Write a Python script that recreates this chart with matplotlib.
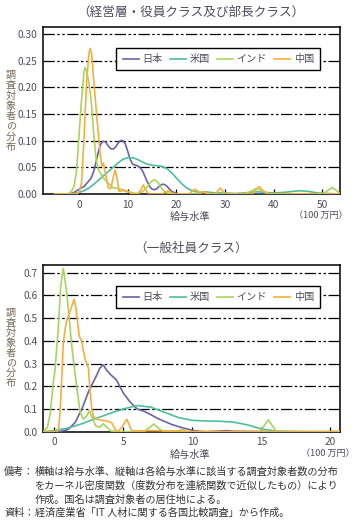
import matplotlib
matplotlib.use("Agg")
import matplotlib.pyplot as plt

plt.rcParams['font.family'] = ['Noto Sans CJK JP', 'DejaVu Sans']

# ---------------- data ----------------
series_names = ["日本", "米国", "インド", "中国"]
colors = ["#6b63a8", "#4cbf9e", "#a9d45e", "#f8ae3e"]

# Top panel: 経営層・役員クラス及び部長クラス
top_jp_x = [-5, -2, -1, 0, 1, 1.6, 2.5, 3, 3.5, 4, 4.5, 5, 5.5, 6, 6.5, 7, 7.5, 8, 8.5, 9, 9.5, 10, 10.5, 11, 11.5,
            12, 12.5, 13, 13.5, 14, 14.5, 15, 15.5, 16, 16.5, 17, 17.5, 18, 18.5, 19, 20, 21, 25, 35, 53.6]
top_jp_y = [0, 0, 0.003, 0.009, 0.014, 0.02, 0.03, 0.042, 0.06, 0.08, 0.094, 0.099, 0.097, 0.09, 0.085, 0.084, 0.088,
            0.095, 0.1, 0.1, 0.094, 0.08, 0.065, 0.056, 0.054, 0.053, 0.05, 0.044, 0.034, 0.023, 0.014, 0.009, 0.008,
            0.01, 0.015, 0.018, 0.018, 0.015, 0.01, 0.005, 0.001, 0, 0, 0, 0]

top_us_x = [-5, -2, -1, 0, 1, 2, 3, 4, 5, 6, 7, 8, 9, 10, 11, 12, 13, 14, 15, 16, 17, 18, 19, 20, 21, 22, 23, 24, 25,
            26, 27, 28, 30, 32, 34, 36, 37, 38, 40, 42, 44, 45.5, 47, 49, 51, 53.6]
top_us_y = [0, 0, 0.001, 0.003, 0.006, 0.011, 0.018, 0.026, 0.034, 0.042, 0.05, 0.058, 0.065, 0.068, 0.068, 0.065,
            0.06, 0.056, 0.054, 0.053, 0.052, 0.048, 0.04, 0.03, 0.02, 0.012, 0.007, 0.004, 0.003, 0.004, 0.003,
            0.002, 0.002, 0.001, 0.002, 0.004, 0.004, 0.003, 0.002, 0.003, 0.005, 0.006, 0.005, 0.002, 0.001, 0]

top_in_x = [-5, -2.5, -2, -1.5, -1, -0.5, 0, 0.5, 1, 1.25, 1.5, 2, 2.5, 3, 3.5, 4, 5, 6, 7, 8, 9, 10, 11, 12, 13,
            14, 14.8, 15.5, 16.2, 17, 18, 20, 24, 25.5, 27, 30, 34, 35.5, 36.5, 37.5, 39, 45, 50, 51, 52, 53, 53.6]
top_in_y = [0, 0, 0.002, 0.006, 0.015, 0.045, 0.11, 0.175, 0.228, 0.237, 0.232, 0.21, 0.175, 0.115, 0.065, 0.045,
            0.03, 0.02, 0.012, 0.01, 0.008, 0.005, 0.002, 0.001, 0.004, 0.013, 0.023, 0.027, 0.022, 0.01, 0.002, 0,
            0, 0.004, 0, 0, 0, 0.006, 0.011, 0.006, 0, 0, 0, 0.006, 0.012, 0.006, 0]

top_cn_x = [-5, -0.5, 0, 0.5, 1, 1.5, 2, 2.3, 2.6, 3, 3.5, 4, 4.4, 4.7, 5, 5.4, 6, 6.5, 7, 7.4, 7.8, 8.2, 8.6, 9,
            9.5, 10, 11, 12, 12.6, 13.2, 13.8, 14.4, 17, 18.3, 19.5, 22.5, 23.8, 25, 25.6, 26.3, 28, 29, 30, 35.5,
            36.2, 37, 37.8, 39, 53.6]
top_cn_y = [0, 0, 0.003, 0.02, 0.1, 0.2, 0.262, 0.273, 0.262, 0.215, 0.16, 0.11, 0.07, 0.052, 0.058, 0.04, 0.012,
            0.01, 0.03, 0.045, 0.03, 0.005, 0.005, 0.008, 0.005, 0.004, 0, 0, 0.006, 0.017, 0.006, 0, 0, 0.006, 0,
            0, 0.009, 0.002, 0.005, 0, 0, 0.011, 0, 0, 0.006, 0.014, 0.006, 0, 0]

top_yticks = [0.00, 0.05, 0.10, 0.15, 0.20, 0.25, 0.30]
top_xticks = [0, 10, 20, 30, 40, 50]

# Bottom panel: 一般社員クラス
bot_jp_x = [-0.8, 0, 0.5, 1, 1.5, 2, 2.5, 3, 3.3, 3.55, 3.8, 4.1, 4.5, 5, 5.5, 6, 6.5, 7, 7.5, 8, 8.5, 9, 9.5, 10,
            10.5, 11, 12, 12.5, 13, 16, 20.7]
bot_jp_y = [0, 0, 0.002, 0.01, 0.04, 0.1, 0.18, 0.24, 0.28, 0.294, 0.27, 0.25, 0.228, 0.17, 0.13, 0.1, 0.09, 0.075,
            0.058, 0.045, 0.032, 0.022, 0.014, 0.006, 0.002, 0, 0.003, 0.005, 0.002, 0, 0]

bot_us_x = [-0.8, 0, 1, 2, 3, 4, 5, 6, 7, 8, 9, 10, 11, 12, 13, 14, 15, 16, 17, 18, 20.7]
bot_us_y = [0, 0.005, 0.016, 0.035, 0.058, 0.08, 0.1, 0.115, 0.108, 0.085, 0.062, 0.05, 0.047, 0.046, 0.042, 0.03,
            0.012, 0.003, 0.001, 0, 0]

bot_in_x = [-0.8, -0.5, -0.3, -0.07, 0.05, 0.29, 0.46, 0.65, 0.9, 1.14, 1.26, 1.45, 1.62, 1.86, 2.1, 2.35, 2.55,
            2.75, 3.0, 3.3, 3.55, 3.8, 4.1, 5, 6.5, 6.9, 7.2, 7.5, 7.9, 8.9, 9.25, 9.6, 10, 14.9, 15.5, 16.1, 17, 20.7]
bot_in_y = [0, 0.02, 0.08, 0.22, 0.27, 0.46, 0.64, 0.72, 0.61, 0.46, 0.38, 0.28, 0.2, 0.09, 0.055, 0.07, 0.092,
            0.06, 0.025, 0.02, 0.035, 0.02, 0.003, 0, 0, 0.018, 0.034, 0.018, 0, 0, 0.012, 0, 0, 0, 0.052, 0, 0, 0]

bot_cn_x = [-0.8, 0.2, 0.3, 0.41, 0.55, 0.65, 0.8, 0.9, 1.14, 1.3, 1.43, 1.55, 1.67, 1.81, 1.98, 2.1, 2.22, 2.35,
            2.47, 2.59, 2.7, 2.83, 3.1, 3.5, 3.8, 4.15, 4.4, 4.6, 4.9, 5.25, 5.6, 6, 7, 8, 9, 10, 20.7]
bot_cn_y = [0, 0, 0.01, 0.08, 0.25, 0.39, 0.46, 0.49, 0.53, 0.56, 0.583, 0.55, 0.49, 0.42, 0.40, 0.36, 0.32, 0.30,
            0.28, 0.18, 0.11, 0.066, 0.055, 0.05, 0.047, 0.04, 0.01, 0.0, 0.02, 0.055, 0.005, 0.003, 0.005, 0.004,
            0.003, 0, 0]

bot_yticks = [0.0, 0.1, 0.2, 0.3, 0.4, 0.5, 0.6, 0.7]
bot_xticks = [0, 5, 10, 15, 20]

top_title = "（経営層・役員クラス及び部長クラス）"
bot_title = "（一般社員クラス）"
xlabel = "給与水準"
unit = "（100 万円）"
ylabel = "調査対象者の分布"
notes = [
    ("備考：", "横軸は給与水準、縦軸は各給与水準に該当する調査対象者数の分布"),
    ("", "をカーネル密度関数（度数分布を連続関数で近似したもの）により"),
    ("", "作成。国名は調査対象者の居住地による。"),
    ("資料：", "経済産業省「IT 人材に関する各国比較調査」から作成。"),
]

# ---------------- drawing ----------------
W, H = 357, 521
fig = plt.figure(figsize=(W / 100, H / 100), dpi=100)
text_c = "#4d4d5c"
label_c = "#7b6a55"
fs = 7.3
grid_ls = (0, (9, 2, 2, 2, 2, 2))


def px_axes(l, t, r, b):
    return fig.add_axes([l / W, 1 - b / H, (r - l) / W, (b - t) / H])


def style(ax, xlim, ylim, xticks, yticks, yfmt):
    ax.set_xlim(*xlim)
    ax.set_ylim(*ylim)
    ax.set_xticks(xticks)
    ax.set_yticks(yticks)
    ax.set_yticklabels([yfmt.format(v) for v in yticks])
    for v in yticks[1:]:
        ax.axhline(v, color="black", lw=0.9, ls=grid_ls, zorder=1)
    for s in ax.spines.values():
        s.set_linewidth(1.1)
        s.set_color("black")
    ax.tick_params(axis="x", direction="in", length=3.5, width=0.9, colors="black",
                   labelcolor=text_c, labelsize=fs, pad=4)
    ax.tick_params(axis="y", direction="in", length=0, labelcolor=text_c, labelsize=fs, pad=4)


def legend(ax):
    leg = ax.legend(loc="upper right", bbox_to_anchor=(0.933, 0.874), ncol=4, fontsize=fs,
                    frameon=True, fancybox=False, edgecolor="black", framealpha=1,
                    handlelength=1.6, handletextpad=0.35, columnspacing=0.7,
                    borderpad=0.6, borderaxespad=0)
    leg.get_frame().set_linewidth(1.0)
    for t in leg.get_texts():
        t.set_color(text_c)


# top panel
ax1 = px_axes(43, 27, 340, 194)
for name, c, xs, ys in zip(series_names, colors,
                           [top_jp_x, top_us_x, top_in_x, top_cn_x],
                           [top_jp_y, top_us_y, top_in_y, top_cn_y]):
    ax1.plot(xs, ys, color=c, lw=1.2, label=name, zorder=3)
style(ax1, (-7.4, 53.6), (0, 0.313), top_xticks, top_yticks, "{:.2f}")
legend(ax1)

# bottom panel
ax2 = px_axes(43, 265, 340, 431.7)
for name, c, xs, ys in zip(series_names, colors,
                           [bot_jp_x, bot_us_x, bot_in_x, bot_cn_x],
                           [bot_jp_y, bot_us_y, bot_in_y, bot_cn_y]):
    ax2.plot(xs, ys, color=c, lw=1.2, label=name, zorder=3)
style(ax2, (-0.82, 20.7), (0, 0.734), bot_xticks, bot_yticks, "{:.1f}")
legend(ax2)

# titles and labels
def ftext(x, y, s, **kw):
    fig.text(x / W, 1 - y / H, s, **kw)

ftext(191, 12, top_title, ha="center", va="center", fontsize=9.1, color=text_c)
ftext(191, 248, bot_title, ha="center", va="center", fontsize=9.1, color=text_c)
ftext(190, 217, xlabel, ha="center", va="center", fontsize=fs, color=text_c)
ftext(321, 215, unit, ha="center", va="center", fontsize=6.6, color=text_c)
ftext(190, 455, xlabel, ha="center", va="center", fontsize=fs, color=text_c)
ftext(328, 453, unit, ha="center", va="center", fontsize=6.6, color=text_c)

for i, ch in enumerate(ylabel):
    ftext(11, 75 + i * 10.35, ch, ha="center", va="center", fontsize=fs, color=label_c)
    ftext(11, 313 + i * 10.0, ch, ha="center", va="center", fontsize=fs, color=label_c)

ys_notes = [472, 486, 500, 513]
for (head, body), y in zip(notes, ys_notes):
    if head:
        ftext(4, y, head, ha="left", va="center", fontsize=fs, color="#333333")
    ftext(35, y, body, ha="left", va="center", fontsize=fs, color="#333333")

fig.savefig("out.png", dpi=100)
